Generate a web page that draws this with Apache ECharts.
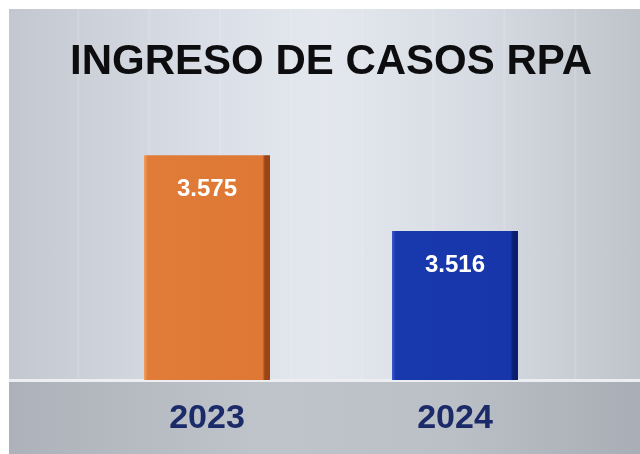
<!DOCTYPE html>
<html><head><meta charset="utf-8">
<script src="https://cdn.jsdelivr.net/npm/echarts@6/dist/echarts.min.js"></script>
<style>
html,body{margin:0;padding:0;background:#fff;}
#bg{position:absolute;left:9px;top:9px;width:631px;height:445px;
background:
repeating-linear-gradient(90deg, rgba(255,255,255,0) 0px, rgba(255,255,255,0) 68px, rgba(255,255,255,0.18) 69px, rgba(255,255,255,0) 71px),
linear-gradient(90deg,#c3c7cf 0%,#d9dde6 30%,#e4e8ee 50%,#d6dae2 75%,#bfc3ca 100%);}
#band{position:absolute;left:9px;top:379px;width:631px;height:75px;border-top:3px solid #eceef1;box-sizing:border-box;
background:linear-gradient(90deg,#adb1b9 0%,#bfc3ca 40%,#bbbfc6 70%,#a9adb5 100%);}
#c{position:absolute;left:0;top:0;width:640px;height:454px;}
</style></head>
<body><div id="bg"></div><div id="band"></div><div id="c"></div>
<script>
const titleText = 'INGRESO DE CASOS RPA';
const categories = ['2023','2024'];
const values = [3575, 3516];
const labels = ['3.575','3.516'];
const barColors = [
  ['#f2a060','#e07b38','#de7834','#9a4418'],
  ['#3a5ad0','#1838ae','#1736aa','#0a1f6e']
];
const chart = echarts.init(document.getElementById('c'), null, {renderer:'canvas'});
function grad(c){
  return new echarts.graphic.LinearGradient(0,0,1,0,[
    {offset:0,color:c[0]},{offset:0.03,color:c[1]},{offset:0.94,color:c[2]},{offset:0.96,color:c[3]},{offset:1,color:c[3]}
  ]);
}
chart.setOption({
  backgroundColor:'transparent',
  title:{text:titleText,left:326,top:36,textAlign:'center',
    textStyle:{fontFamily:'Liberation Sans',fontWeight:'bold',fontSize:42,color:'#0d0d10'}},
  grid:{left:83,right:61,top:123,bottom:74},
  xAxis:{type:'category',data:categories,
    axisLine:{show:false},axisTick:{show:false},
    axisLabel:{margin:22,fontFamily:'Liberation Sans',fontWeight:'bold',fontSize:34,color:'#1b2a68'}},
  yAxis:{type:'value',min:3400,max:3600,show:false,splitLine:{show:false}},
  series:[{type:'bar',barWidth:126,
    data:values.map((v,i)=>({value:v,itemStyle:{color:grad(barColors[i])}})),
    label:{show:true,position:'insideTop',distance:22,
      formatter:p=>labels[p.dataIndex],
      fontFamily:'Liberation Sans',fontWeight:'bold',fontSize:24,color:'#ffffff'}
  }]
});
</script></body></html>
